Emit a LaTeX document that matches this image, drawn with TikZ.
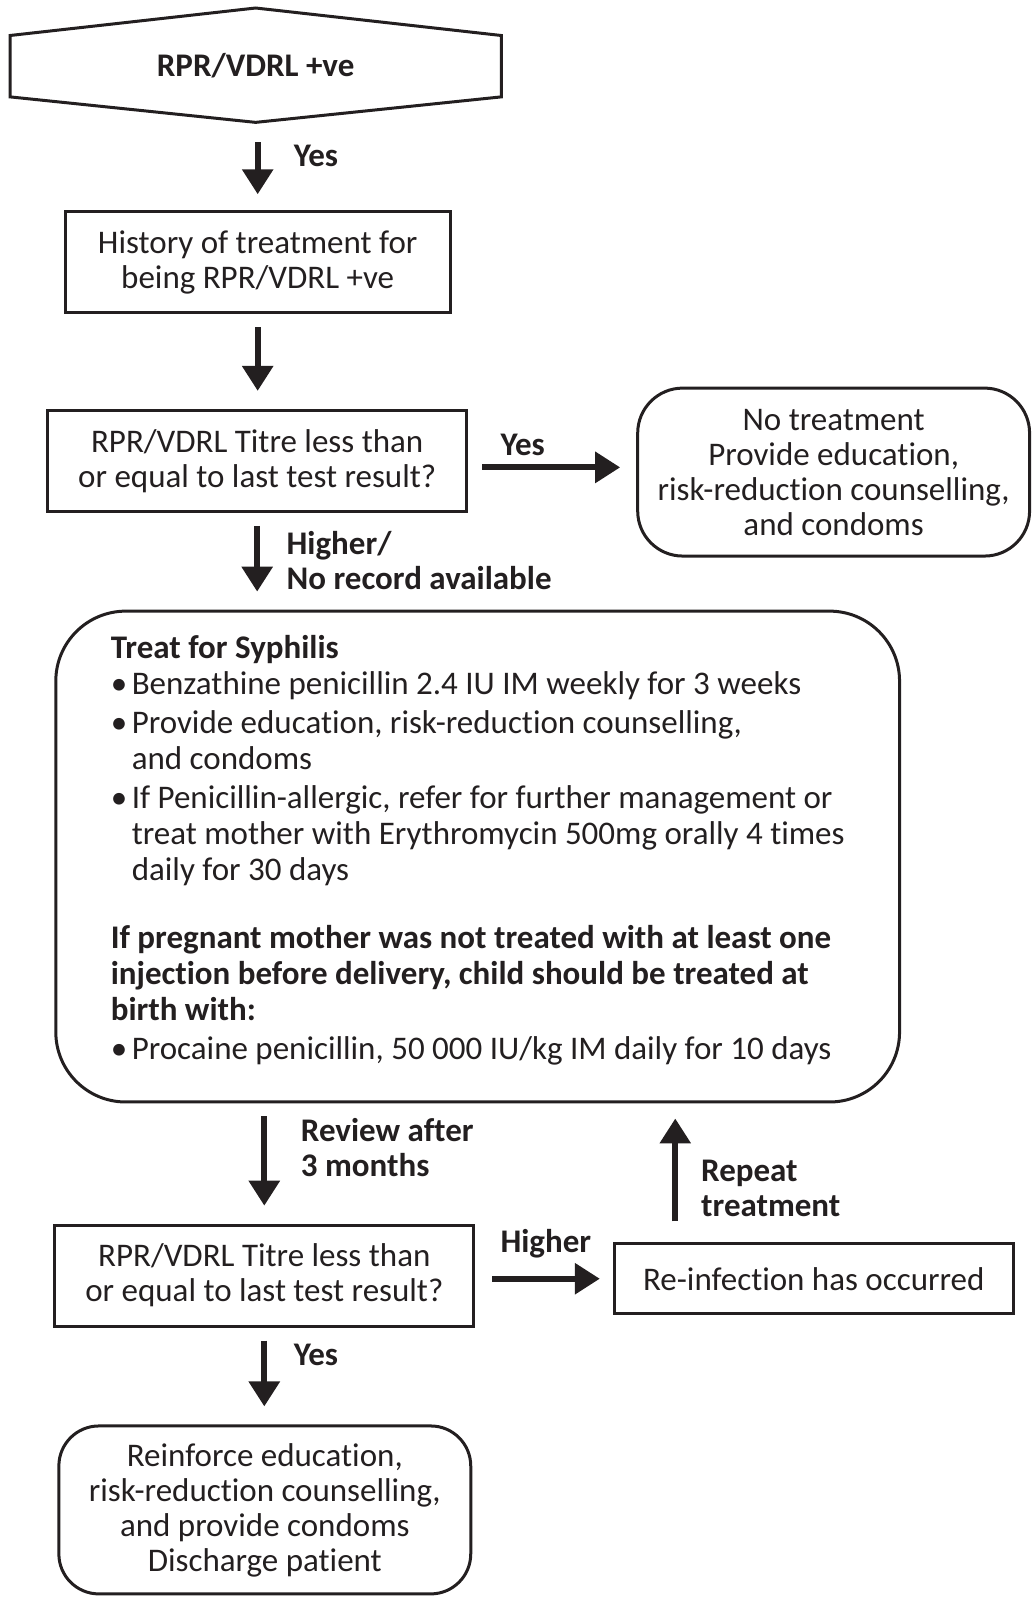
\documentclass[tikz,border=0pt]{standalone}
\usepackage{fontspec}
\setmainfont{Carlito}[Ligatures=NoCommon]
\usetikzlibrary{arrows.meta}
\definecolor{ink}{RGB}{35,31,32}
\newcommand{\bul}{\makebox[21pt][l]{\textbullet}}
\newcommand{\ind}{\hspace*{21pt}}

\begin{document}
\begin{tikzpicture}[x=1.0188pt,y=-1.0188pt,
    every node/.style={font=\fontsize{33}{35}\selectfont, text=ink},
    box/.style={draw=ink, line width=3pt, align=center, inner sep=0pt},
    rbox/.style={box, rounded corners=40pt},
    lbl/.style={anchor=west, align=left, font=\fontsize{33}{35}\selectfont\bfseries}]
  \useasboundingbox (0,0) rectangle (1013,1568);
  \draw
    (251,64) node (start) [minimum width=491pt, minimum height=114pt, font=\fontsize{33}{35}\selectfont\bfseries] {RPR/VDRL +ve}
    (253,257.5) node (hist) [box, minimum width=385pt, minimum height=101pt] {History of treatment for\\being RPR/VDRL +ve}
    (252.5,452.5) node (titre1) [box, minimum width=419pt, minimum height=101pt] {RPR/VDRL Titre less than\\or equal to last test result?}
    (818.5,463.5) node (notreat) [rbox, rounded corners=45pt, minimum width=392pt, minimum height=168pt] {No treatment\\Provide education,\\risk-reduction counselling,\\and condoms}
    (469,841) node (big) [rbox, rounded corners=70pt, minimum width=844pt, minimum height=491pt] {}
    (259.5,1252.5) node (titre2) [box, minimum width=419pt, minimum height=101pt] {RPR/VDRL Titre less than\\or equal to last test result?}
    (799,1255.5) node (reinf) [box, minimum width=399pt, minimum height=70pt] {Re-infection has occurred}
    (260,1482.5) node (reinforce) [rbox, minimum width=412pt, minimum height=168pt] {Reinforce education,\\risk-reduction counselling,\\and provide condoms\\Discharge patient};
  % text of the treatment box
  \draw (469,835) node (bigtext) [align=left, font=\fontsize{33}{36}\selectfont] {%
    \textbf{Treat for Syphilis}\\
    \bul Benzathine penicillin 2.4 IU IM weekly for 3 weeks\\[3pt]
    \bul Provide education, risk-reduction counselling,\\
    \ind and condoms\\[3pt]
    \bul If Penicillin-allergic, refer for further management or\\
    \ind treat mother with Erythromycin 500mg orally 4 times\\
    \ind daily for 30 days\\[32pt]
    \textbf{If pregnant mother was not treated with at least one}\\
    \textbf{injection before delivery, child should be treated at}\\
    \textbf{birth with:}\\[3pt]
    \bul Procaine penicillin, 50 000 IU/kg IM daily for 10 days};
  % hexagon round the start node
  \draw[ink, line width=3pt, line join=miter]
    ([yshift=-27.5pt]start.north west) -- (start.north) -- ([yshift=-27.5pt]start.north east)
    -- ([yshift=25.5pt]start.south east) -- (start.south) -- ([yshift=25.5pt]start.south west) -- cycle;
  % labels
  \draw
    (285,153) node (yes1) [lbl] {Yes}
    (488,437) node (yes2) [lbl] {Yes}
    (278,550) node (norec) [lbl] {Higher/\\No record available}
    (292,1127) node (review) [lbl] {Review after\\3 months}
    (685,1167) node (repeat) [lbl] {Repeat\\treatment}
    (488,1221) node (higher) [lbl] {Higher}
    (285,1330) node (yes3) [lbl] {Yes};
  \coordinate (upx) at (663,0);
  \begin{scope}[draw=ink, line width=6pt, -{Triangle[width=30pt,length=25pt]}, shorten <=13pt, shorten >=18pt]
    \draw[shorten <=20pt, shorten >=16pt] (start.south -| hist) to (hist.north);
    \draw (hist.south) to (hist.south |- titre1.north);
    \draw (titre1.south) to (titre1.south |- big.north);
    \draw (big.south -| titre2) to (titre2.north);
    \draw (titre2.south) to (titre2.south |- reinforce.north);
    \draw[shorten <=14pt, shorten >=16pt] ([yshift=-6.5pt]titre1.east) to ([yshift=-6.5pt]titre1.east -| notreat.west);
    \draw[shorten <=17pt, shorten >=13pt] (titre2.east |- reinf.west) to (reinf.west);
    \draw[shorten <=21pt, shorten >=15pt] (reinf.north -| upx) to (big.south -| upx);
  \end{scope}
\end{tikzpicture}
\end{document}
